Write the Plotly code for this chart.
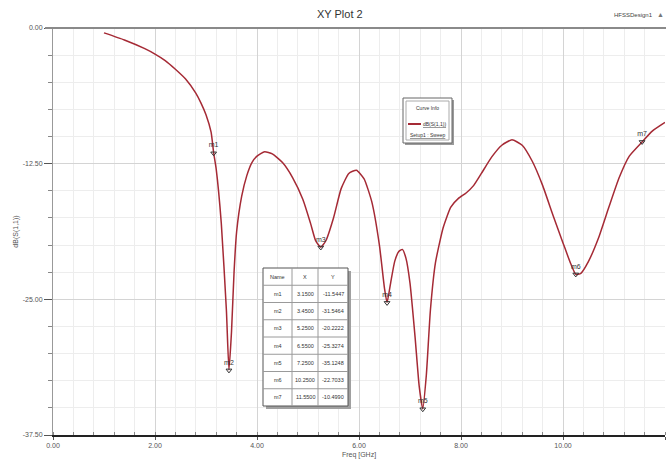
import plotly.graph_objects as go

# ---------------- data ----------------
freq = [1.0, 1.4, 1.8, 2.0, 2.2, 2.4, 2.6, 2.8, 2.9, 3.0, 3.1, 3.15, 3.2, 3.3, 3.4, 3.45,
        3.5, 3.55, 3.6, 3.7, 3.8, 3.9, 4.0, 4.15, 4.3, 4.5, 4.7, 4.9, 5.05, 5.15, 5.25,
        5.35, 5.5, 5.65, 5.8, 5.95, 6.1, 6.25, 6.4, 6.5, 6.55, 6.62, 6.7, 6.78, 6.85,
        6.92, 7.0, 7.1, 7.18, 7.25, 7.32, 7.4, 7.5, 7.65, 7.8, 7.95, 8.1, 8.25, 8.4, 8.6,
        8.8, 9.0, 9.2, 9.4, 9.6, 9.8, 10.0, 10.15, 10.25, 10.35, 10.5, 10.7, 10.9,
        11.1, 11.3, 11.55, 11.75, 12.0]
s11_db = [-0.45, -1.1, -1.9, -2.4, -3.0, -3.8, -4.7, -6.0, -6.9, -8.0, -9.6, -11.5, -13.0,
          -18.0, -26.0, -31.5, -28.0, -22.5, -18.8, -15.5, -13.6, -12.4, -11.8, -11.4,
          -11.6, -12.4, -13.8, -15.8, -18.0, -19.6, -20.2, -19.6, -17.5, -14.8, -13.4,
          -13.1, -13.9, -16.0, -20.0, -24.0, -25.3, -23.5, -21.5, -20.6, -20.4,
          -21.2, -23.5, -28.5, -33.0, -35.1, -32.0, -26.0, -21.6, -18.4, -16.5, -15.7,
          -15.2, -14.5, -13.4, -11.9, -10.8, -10.3, -10.8, -12.3, -14.5, -17.2, -19.8,
          -21.7, -22.7, -22.6, -21.5, -19.3, -16.5, -13.8, -11.8, -10.5, -9.5, -8.7]

marker_names = ["m1", "m2", "m3", "m4", "m5", "m6", "m7"]
marker_x = [3.15, 3.45, 5.25, 6.55, 7.25, 10.25, 11.55]
marker_y = [-11.5447, -31.5464, -20.2222, -25.3274, -35.1248, -22.7033, -10.4990]

x_ticks = [0, 2, 4, 6, 8, 10, 12]
x_tick_labels = ["0.00", "2.00", "4.00", "6.00", "8.00", "10.00", "12.00"]
y_ticks = [0, -12.5, -25, -37.5]
y_tick_labels = ["0.00", "-12.50", "-25.00", "-37.50"]

# ---------------- layout helpers ----------------
W, H = 670, 468
ML, MR, MT, MB = 53, 5, 28, 33
PW, PH = W - ML - MR, H - MT - MB


def px(x):
    return (x - ML) / PW


def py(y):
    return (H - MB - y) / PH


FONT = "Liberation Sans"
TXT = "#555555"
CURVE = "#a52a35"

fig = go.Figure()

fig.add_trace(go.Scatter(x=freq, y=s11_db, mode="lines",
                         line=dict(color=CURVE, width=1.5, shape="spline", smoothing=0.5),
                         hoverinfo="x+y", showlegend=False))

fig.add_trace(go.Scatter(x=marker_x, y=marker_y, mode="markers+text",
                         text=marker_names, textposition="top center",
                         textfont=dict(family=FONT, size=7, color="#333333"),
                         marker=dict(symbol="triangle-down-open", size=5,
                                     color="#333333", line=dict(width=1)),
                         showlegend=False))

fig.update_xaxes(range=[0, 12], tickvals=x_ticks, ticktext=x_tick_labels,
                 showgrid=True, gridcolor="#d4d4d4", gridwidth=1,
                 minor=dict(dtick=0.4, showgrid=True, gridcolor="#ededed",
                            ticks="inside", ticklen=3, tickcolor="#888888"),
                 ticks="outside", ticklen=3, tickcolor="#555555",
                 showline=True, linecolor="#222222", linewidth=2, mirror=False,
                 zeroline=False,
                 tickfont=dict(family=FONT, size=7, color=TXT),
                 title=dict(text="Freq [GHz]", font=dict(family=FONT, size=7, color=TXT),
                            standoff=4))
fig.update_yaxes(range=[-37.5, 0], tickvals=y_ticks, ticktext=y_tick_labels,
                 showgrid=True, gridcolor="#d4d4d4", gridwidth=1,
                 minor=dict(dtick=2.5, showgrid=True, gridcolor="#ededed",
                            ticks="outside", ticklen=4, tickcolor="#888888"),
                 ticks="outside", ticklen=8, tickcolor="#555555",
                 showline=True, linecolor="#999999", linewidth=1,
                 zeroline=False,
                 tickfont=dict(family=FONT, size=7, color=TXT),
                 title=dict(text="dB(S(1,1))", font=dict(family=FONT, size=7, color=TXT),
                            standoff=3))

shapes = []
annotations = []


def note(text, x, y, size, color="#333333", xanchor="center"):
    annotations.append(dict(text=text, x=px(x), y=py(y), xref="paper", yref="paper",
                            xanchor=xanchor, yanchor="middle", showarrow=False,
                            font=dict(family=FONT, size=size, color=color)))


# top frame line
shapes.append(dict(type="line", xref="paper", yref="paper", x0=px(45), x1=px(666),
                   y0=1, y1=1, line=dict(color="#8a8a8a", width=2)))

# title and design name
note("XY Plot 2", 340, 14, 11)
note("HFSSDesign1", 655, 15, 6, "#444444", "right")
note("▲", 666, 15, 7, "#777777", "right")

# curve info box
bx0, bx1, by0, by1 = 403, 452, 98, 143
shapes.append(dict(type="rect", xref="paper", yref="paper", x0=px(bx0 + 2), x1=px(bx1 + 2),
                   y0=py(by1 + 2), y1=py(by0 + 2), fillcolor="#9a9a9a", line=dict(width=0)))
shapes.append(dict(type="rect", xref="paper", yref="paper", x0=px(bx0), x1=px(bx1),
                   y0=py(by1), y1=py(by0), fillcolor="white",
                   line=dict(color="#666666", width=1)))
shapes.append(dict(type="rect", xref="paper", yref="paper", x0=px(bx0 + 3), x1=px(bx1 - 3),
                   y0=py(by1 - 3), y1=py(by0 + 3), fillcolor="rgba(0,0,0,0)",
                   line=dict(color="#aaaaaa", width=1)))
shapes.append(dict(type="line", xref="paper", yref="paper", x0=px(bx0 + 5), x1=px(bx0 + 18),
                   y0=py(124), y1=py(124), line=dict(color=CURVE, width=2)))
note("Curve Info", (bx0 + bx1) / 2, 108, 5)
note("<u>dB(S(1,1))</u>", bx1 - 4, 124, 5, xanchor="right")
note("<u>Setup1 : Sweep</u>", bx0 + 5, 135, 5, xanchor="left")

# marker table
tx0, tx1, ty0, ty1 = 263, 348, 268, 406
cols = [263, 292, 318, 348]
nrows = 8
rh = (ty1 - ty0) / nrows
shapes.append(dict(type="rect", xref="paper", yref="paper", x0=px(tx0 + 3), x1=px(tx1 + 3),
                   y0=py(ty1 + 3), y1=py(ty0 + 3), fillcolor="#a0a0a0", line=dict(width=0)))
shapes.append(dict(type="rect", xref="paper", yref="paper", x0=px(tx0), x1=px(tx1),
                   y0=py(ty1), y1=py(ty0), fillcolor="white",
                   line=dict(color="#555555", width=1)))
for r in range(1, nrows):
    yy = ty0 + r * rh
    shapes.append(dict(type="line", xref="paper", yref="paper", x0=px(tx0), x1=px(tx1),
                       y0=py(yy), y1=py(yy), line=dict(color="#9a9a9a", width=1)))
for c in cols[1:-1]:
    shapes.append(dict(type="line", xref="paper", yref="paper", x0=px(c), x1=px(c),
                       y0=py(ty1), y1=py(ty0), line=dict(color="#9a9a9a", width=1)))

header = ["Name", "X", "Y"]
rows = [header] + [[n, f"{x:.4f}", f"{y:.4f}"] for n, x, y in zip(marker_names, marker_x, marker_y)]
for r, row in enumerate(rows):
    yc = ty0 + (r + 0.5) * rh
    for c, val in enumerate(row):
        xc = (cols[c] + cols[c + 1]) / 2
        note(val, xc, yc, 5.5)

fig.update_layout(width=W, height=H, margin=dict(l=ML, r=MR, t=MT, b=MB),
                  paper_bgcolor="white", plot_bgcolor="white",
                  shapes=shapes, annotations=annotations, showlegend=False)

fig.write_html("out.html", config={"displayModeBar": False},
               post_script="document.body.style.margin='0px';document.body.style.overflow='hidden';")
